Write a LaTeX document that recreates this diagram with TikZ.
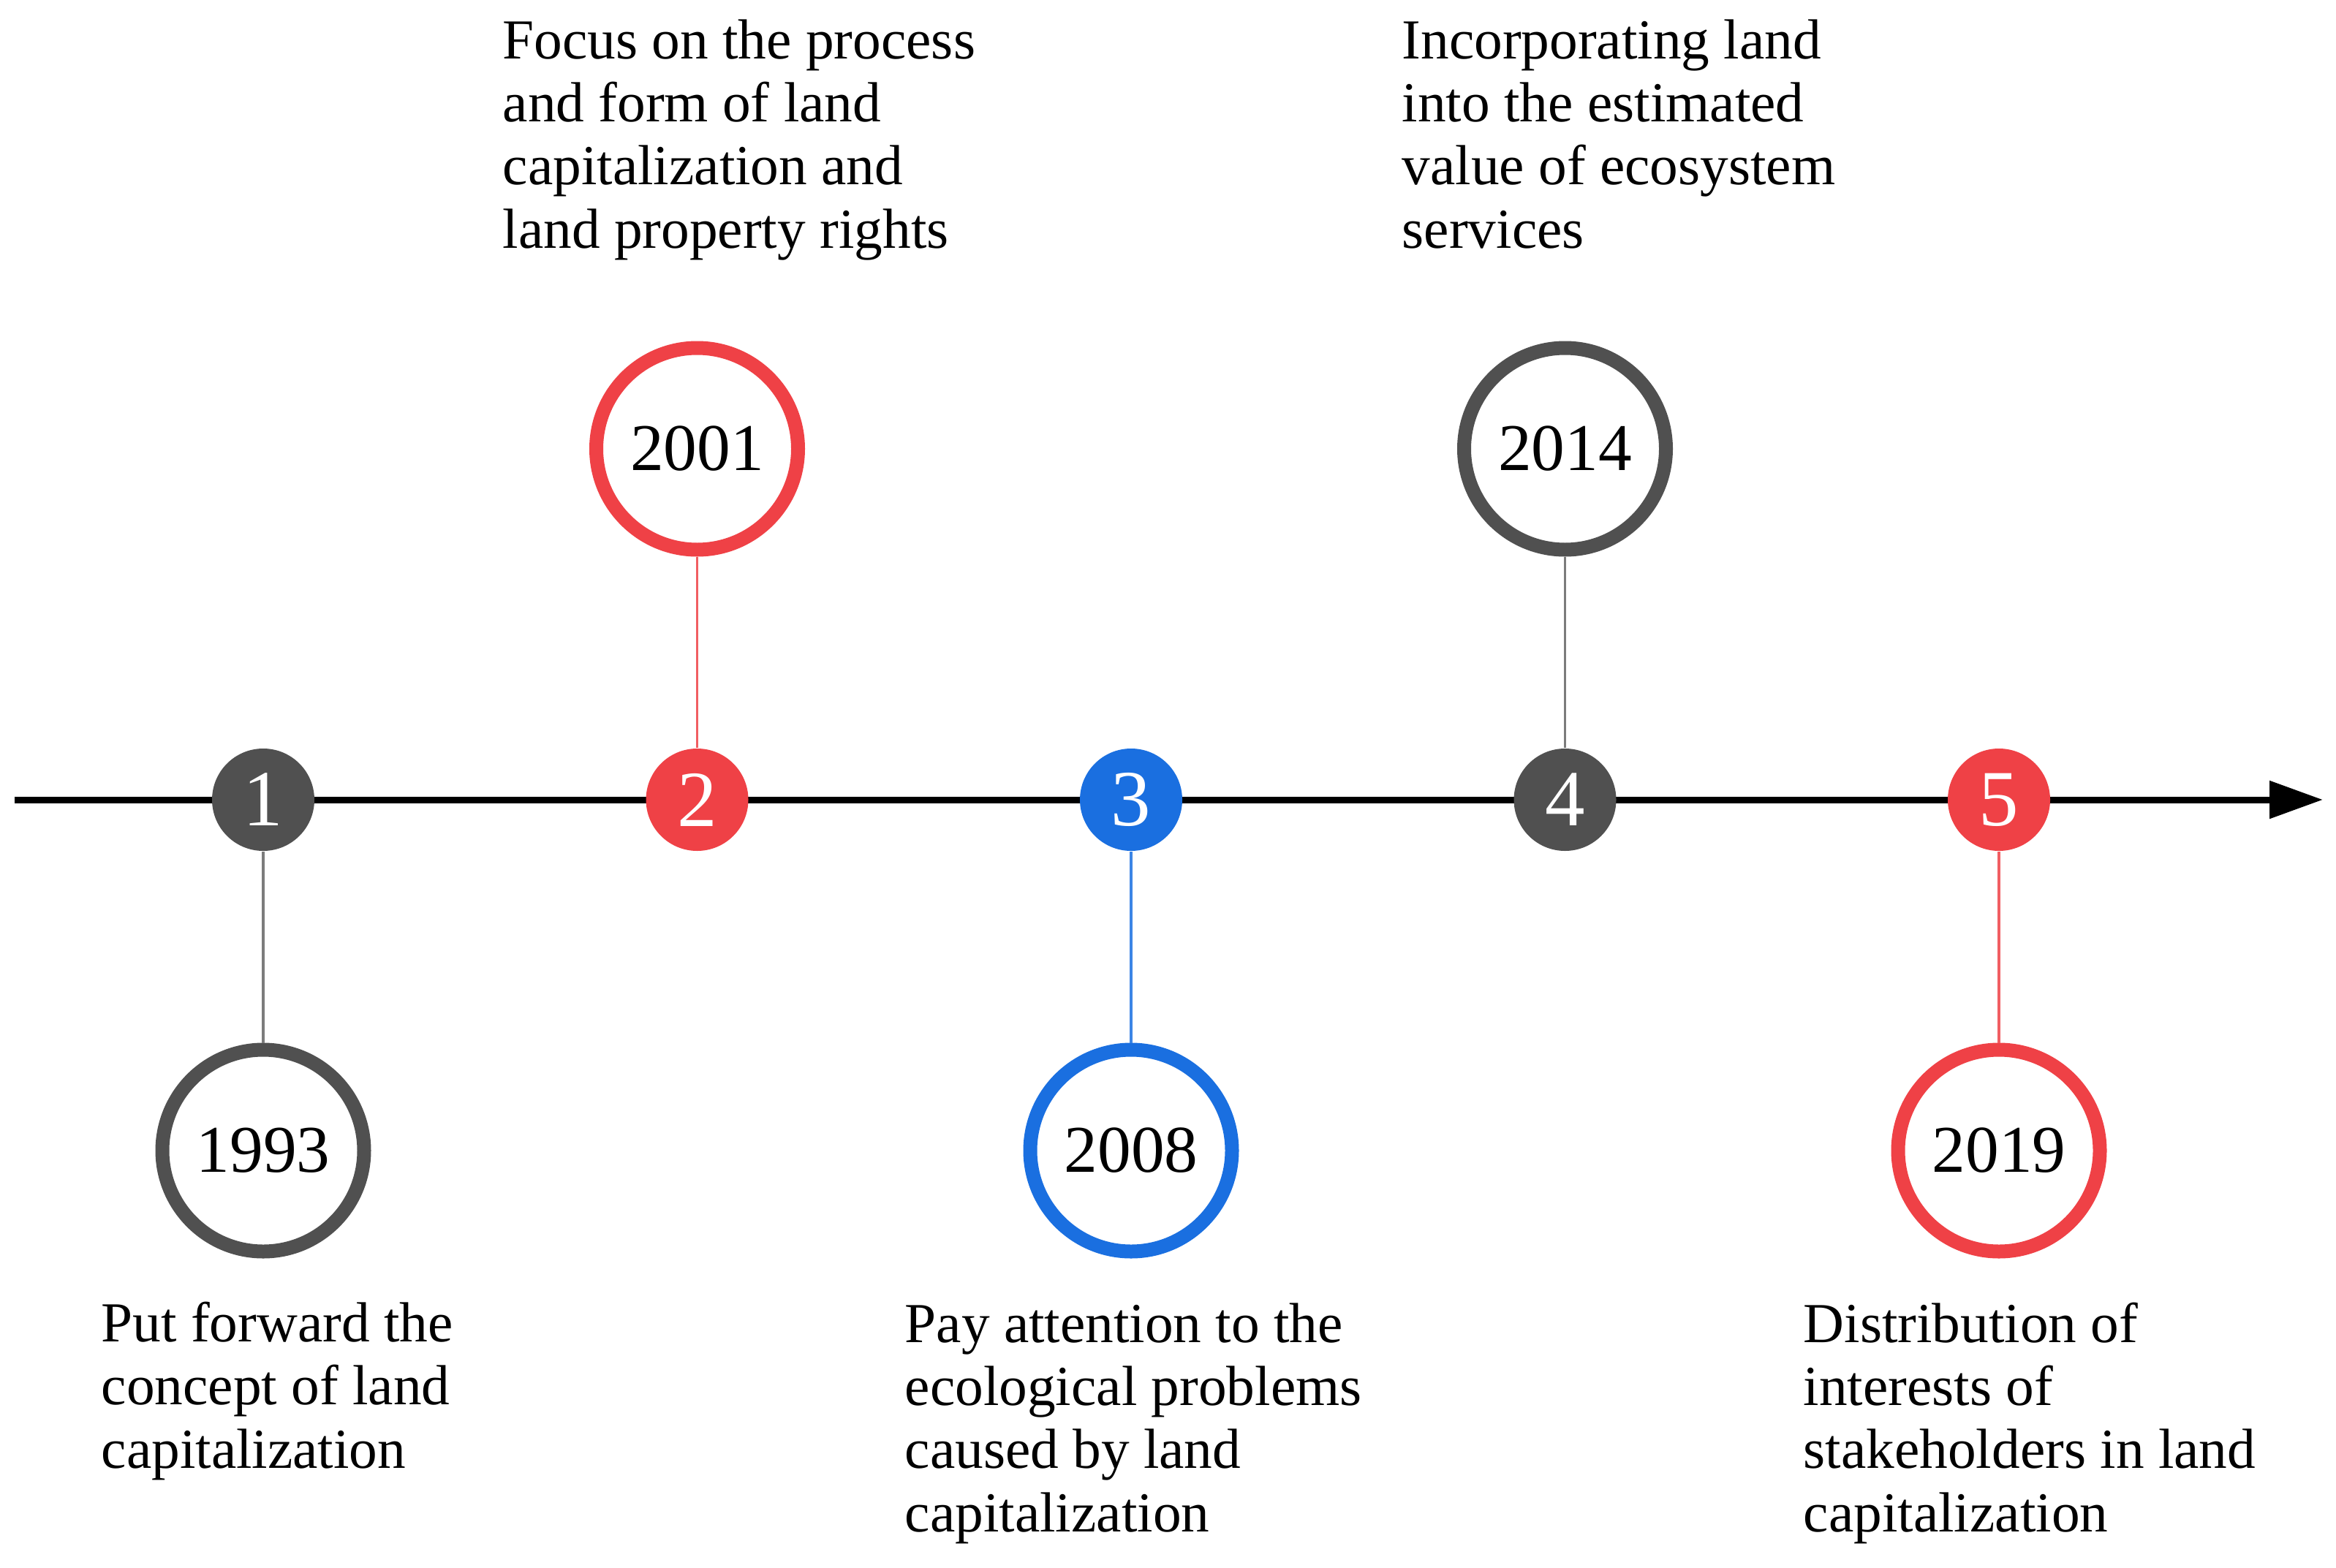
\documentclass[tikz,border=0pt]{standalone}
\usepackage{fontspec}
\setmainfont{Liberation Serif}
\usetikzlibrary{arrows.meta,positioning}
\definecolor{dotgray}{RGB}{80,80,80}
\definecolor{dotred}{RGB}{239,65,70}
\definecolor{dotblue}{RGB}{26,111,224}
\newcommand{\axisarrow}{-{Triangle[length=7.3mm,width=5mm]}}
\tikzset{%
  % Specifications for style of nodes:
        dotstyle/.style = {circle, minimum size=1.4cm, inner sep=0pt,
                           text=white, font=\fontsize{31}{31}\selectfont},
       yearstyle/.style = {circle, draw, line width=1.9mm, fill=white,
                           minimum size=2.76cm, inner sep=0pt,
                           font=\fontsize{26}{26}\selectfont},
  % notes are placed by the baseline of their last line
       notestyle/.style = {anchor=base west, inner sep=0pt, align=left,
                           font=\fontsize{22}{24.5}\selectfont},
        linkstyle/.style = {line width=0.9pt},
}
\begin{document}
\begin{tikzpicture}[node distance=4.8cm]
  \useasboundingbox (0,0) rectangle (31.95,-21.45);
  % Time axis
  \coordinate (axisstart) at (0.2,-10.94);
  \coordinate (axisend)   at (31.77,-10.94);
  \draw[line width=0.9mm, \axisarrow] (axisstart) -- (axisend);

  % Specification of nodes (position, etc.)
  \node (d1) [dotstyle, fill=dotgray] at (3.60,-10.94)  {1};
  \node (d2) [dotstyle, fill=dotred]  at (9.535,-10.94) {2};
  \node (d3) [dotstyle, fill=dotblue] at (15.47,-10.94) {3};
  \node (d4) [dotstyle, fill=dotgray] at (21.405,-10.94) {4};
  \node (d5) [dotstyle, fill=dotred]  at (27.34,-10.94) {5};

  \node (y1) [yearstyle, draw=dotgray, below of=d1] {1993};
  \node (y2) [yearstyle, draw=dotred,  above of=d2] {2001};
  \node (y3) [yearstyle, draw=dotblue, below of=d3] {2008};
  \node (y4) [yearstyle, draw=dotgray, above of=d4] {2014};
  \node (y5) [yearstyle, draw=dotred,  below of=d5] {2019};

  % Lines between dots and years
  \draw[linkstyle, dotgray!75] (d1) -- (y1);
  \draw[linkstyle, dotred!85]  (d2) -- (y2);
  \draw[linkstyle, dotblue!85] (d3) -- (y3);
  \draw[linkstyle, dotgray!75] (d4) -- (y4);
  \draw[linkstyle, dotred!85]  (d5) -- (y5);

  % Descriptions
  \node (t2) [notestyle] at (6.87,-3.39)
    {Focus on the process\\and form of land\\capitalization and\\land property rights};
  \node (t4) [notestyle] at (19.17,-3.39)
    {Incorporating land\\into the estimated\\value of ecosystem\\services};
  \node (t1) [notestyle] at (1.38,-20.08)
    {Put forward the\\concept of land\\capitalization};
  \node (t3) [notestyle] at (12.37,-20.95)
    {Pay attention to the\\ecological problems\\caused by land\\capitalization};
  \node (t5) [notestyle] at (24.66,-20.95)
    {Distribution of\\interests of\\stakeholders in land\\capitalization};
\end{tikzpicture}
\end{document}
